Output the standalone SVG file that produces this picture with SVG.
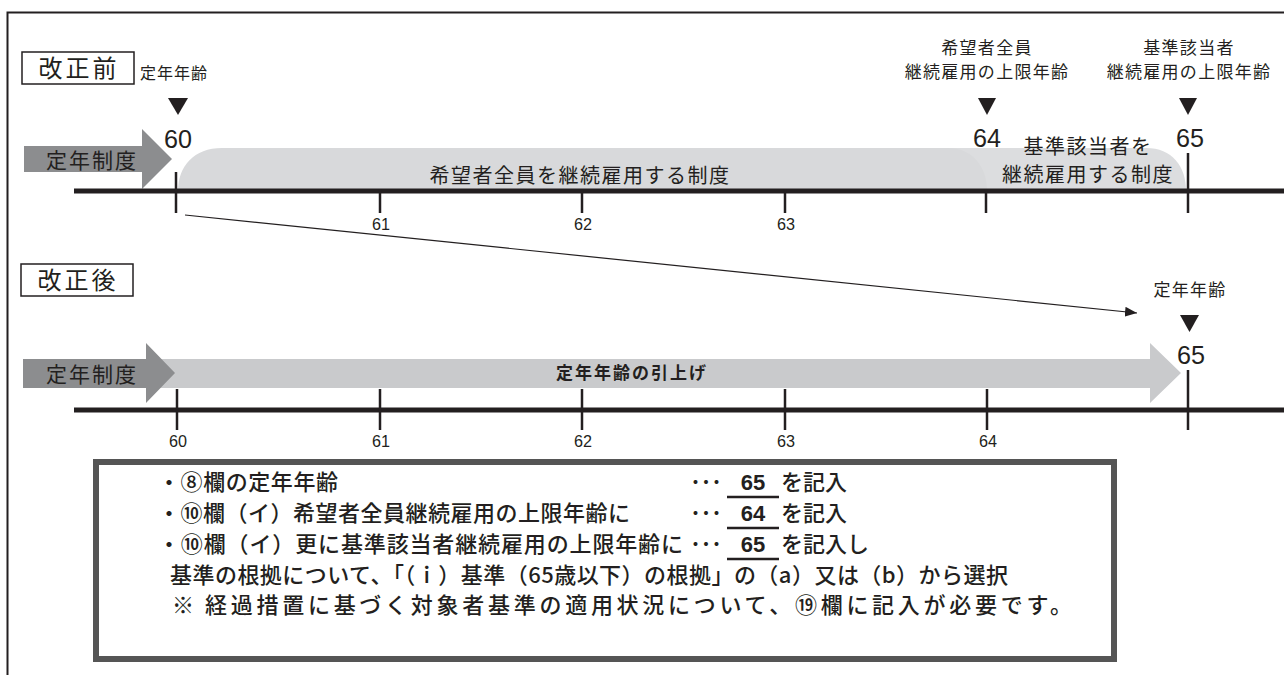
<svg xmlns="http://www.w3.org/2000/svg" width="1284" height="675" viewBox="0 0 1284 675">
<defs>
<style>
text{font-family:"Noto Sans CJK JP","Noto Sans",sans-serif;fill:#231f20}
.num{font-family:"Liberation Sans",Arial,sans-serif}
.lbl{font-size:17px;letter-spacing:1.3px;text-anchor:middle}
.big{font-size:26px;text-anchor:middle}
.tk{font-size:16px;text-anchor:middle}
.sec{font-size:24px;letter-spacing:3px;text-anchor:middle}
.bx{fill:#fff;stroke:#231f20;stroke-width:1.5}
.axis{stroke:#231f20;stroke-width:5}
.tick{stroke:#231f20;stroke-width:2.5}
.tri{fill:#231f20}
.dark{fill:#8c8d8f}
.light{fill:#c9cacc}
.pale{fill:#dcdddf}
.body{font-size:22px;font-weight:500}
.ul{stroke:#231f20;stroke-width:2.5}
</style>
<marker id="ah" markerWidth="12" markerHeight="10" refX="12" refY="5" orient="auto" markerUnits="userSpaceOnUse">
<path d="M0,0 L12,5 L0,10 Z" fill="#231f20"/>
</marker>
</defs>
<rect width="1284" height="675" fill="#fff"/>
<path d="M7.5,675 V12.5 H1284" fill="none" stroke="#231f20" stroke-width="2"/>

<g id="before">
<rect class="bx" x="22" y="52" width="112" height="32"/>
<text class="sec" x="79" y="77">改正前</text>
<path class="pale" d="M940,191 V148 H1146 C1172,148 1186,166 1186,191 Z"/>
<path fill="#d8d9db" d="M178,191 C178,166 194,148 222,148 H948 C972,148 987,166 987,191 Z"/>
<polygon class="dark" points="24,146 142,146 142,129 172,159 142,189 142,172 24,172"/>
<text x="46" y="168" font-size="21" letter-spacing="2">定年制度</text>
<text x="140" y="79" font-size="16" letter-spacing="1">定年年齢</text>
<polygon class="tri" points="168,98 188,98 178,115"/>
<text class="num big" x="178" y="148" textLength="28" lengthAdjust="spacingAndGlyphs">60</text>
<text x="580" y="183" font-size="20" letter-spacing="1.5" text-anchor="middle">希望者全員を継続雇用する制度</text>
<text x="1088" y="154" font-size="20" letter-spacing="1.5" text-anchor="middle">基準該当者を</text>
<text x="1088" y="182" font-size="20" letter-spacing="1.5" text-anchor="middle">継続雇用する制度</text>
<text class="lbl" x="987" y="54">希望者全員</text>
<text class="lbl" x="987" y="78">継続雇用の上限年齢</text>
<text class="lbl" x="1189" y="54">基準該当者</text>
<text class="lbl" x="1189" y="78">継続雇用の上限年齢</text>
<polygon class="tri" points="978,98 996,98 987,115"/>
<polygon class="tri" points="1179,98 1197,98 1188,115"/>
<text class="num big" x="987" y="147" textLength="28" lengthAdjust="spacingAndGlyphs">64</text>
<text class="num big" x="1190" y="147" textLength="28" lengthAdjust="spacingAndGlyphs">65</text>
<line class="axis" x1="74" y1="191" x2="1284" y2="191"/>
<line class="tick" x1="176" y1="172" x2="176" y2="213"/>
<line class="tick" x1="380" y1="189" x2="380" y2="213"/>
<line class="tick" x1="582" y1="189" x2="582" y2="213"/>
<line class="tick" x1="785" y1="189" x2="785" y2="213"/>
<line class="tick" x1="986" y1="189" x2="986" y2="213"/>
<line class="tick" x1="1188" y1="153" x2="1188" y2="213"/>
<text class="num tk" x="381" y="230" textLength="18" lengthAdjust="spacingAndGlyphs">61</text>
<text class="num tk" x="583" y="230" textLength="18" lengthAdjust="spacingAndGlyphs">62</text>
<text class="num tk" x="786" y="230" textLength="18" lengthAdjust="spacingAndGlyphs">63</text>
</g>

<g id="connectors">
<line x1="185" y1="215" x2="1137" y2="313" stroke="#231f20" stroke-width="1.2" marker-end="url(#ah)"/>
</g>

<g id="after">
<rect class="bx" x="21" y="264" width="112" height="32"/>
<text class="sec" x="78" y="289">改正後</text>
<polygon class="light" points="146,359 1150,359 1150,343 1181,373 1150,403 1150,388 146,388"/>
<polygon class="dark" points="23,359 146,359 146,343 175,373 146,403 146,388 23,388"/>
<text x="46" y="382" font-size="21" letter-spacing="2">定年制度</text>
<text x="632" y="379" font-size="17" font-weight="bold" letter-spacing="2" text-anchor="middle">定年年齢の引上げ</text>
<text class="lbl" x="1190" y="296">定年年齢</text>
<polygon class="tri" points="1180,315 1199,315 1189.5,332"/>
<text class="num big" x="1191" y="364" textLength="28" lengthAdjust="spacingAndGlyphs">65</text>
<line class="axis" x1="74" y1="410" x2="1284" y2="410"/>
<line class="tick" x1="177" y1="389" x2="177" y2="430"/>
<line class="tick" x1="380" y1="389" x2="380" y2="430"/>
<line class="tick" x1="582" y1="389" x2="582" y2="430"/>
<line class="tick" x1="785" y1="389" x2="785" y2="430"/>
<line class="tick" x1="987" y1="389" x2="987" y2="430"/>
<line class="tick" x1="1188" y1="370" x2="1188" y2="430"/>
<text class="num tk" x="178" y="447" textLength="18" lengthAdjust="spacingAndGlyphs">60</text>
<text class="num tk" x="381" y="447" textLength="18" lengthAdjust="spacingAndGlyphs">61</text>
<text class="num tk" x="583" y="447" textLength="18" lengthAdjust="spacingAndGlyphs">62</text>
<text class="num tk" x="786" y="447" textLength="18" lengthAdjust="spacingAndGlyphs">63</text>
<text class="num tk" x="988" y="447" textLength="18" lengthAdjust="spacingAndGlyphs">64</text>
</g>

<g id="note">
<rect x="96" y="462" width="1018" height="197" fill="#fff" stroke="#555" stroke-width="6"/>
<text class="body" x="158" y="490" textLength="180">・⑧欄の定年年齢</text>
<text class="body" x="158" y="521" textLength="472">・⑩欄（イ）希望者全員継続雇用の上限年齢に</text>
<text class="body" x="158" y="552" textLength="525">・⑩欄（イ）更に基準該当者継続雇用の上限年齢に</text>
<text class="body" x="170" y="583" textLength="838">基準の根拠について、「（ｉ）基準（65歳以下）の根拠」の（a）又は（b）から選択</text>
<text class="body" x="172" y="613">※</text>
<text class="body" x="205" y="613" textLength="867">経過措置に基づく対象者基準の適用状況について、⑲欄に記入が必要です。</text>
<text class="body" x="690" y="490" textLength="32">･･･</text>
<text class="body" x="690" y="521" textLength="32">･･･</text>
<text class="body" x="690" y="552" textLength="32">･･･</text>
<text class="num" x="753" y="490" font-size="22" font-weight="bold" text-anchor="middle">65</text>
<text class="num" x="753" y="521" font-size="22" font-weight="bold" text-anchor="middle">64</text>
<text class="num" x="753" y="552" font-size="22" font-weight="bold" text-anchor="middle">65</text>
<line class="ul" x1="727" y1="497" x2="779" y2="497"/>
<line class="ul" x1="727" y1="528" x2="779" y2="528"/>
<line class="ul" x1="727" y1="559" x2="779" y2="559"/>
<text class="body" x="781" y="490">を記入</text>
<text class="body" x="781" y="521">を記入</text>
<text class="body" x="781" y="552">を記入し</text>
</g>
</svg>
